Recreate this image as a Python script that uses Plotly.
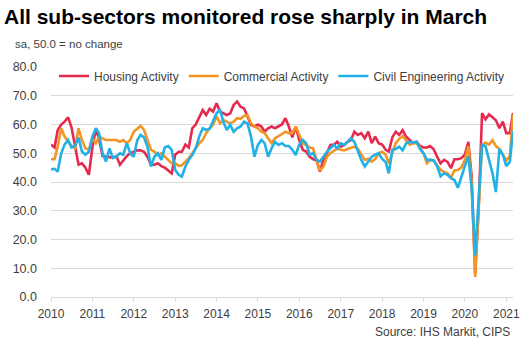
import pandas as pd
import plotly.graph_objects as go

months = pd.date_range("2010-01-01", periods=135, freq="MS")

housing = [
    53, 52, 58, 60, 61, 62.5, 59, 52, 46, 46.5, 45, 42.5,            # 2010
    52, 58.5, 55, 49, 48.8, 48.8, 48.5, 49, 46, 47.5, 49, 50,        # 2011
    50.5, 51, 51, 50.5, 48.8, 46, 46, 46.5, 45.5, 45, 44, 43,        # 2012
    49.5, 50.5, 50.5, 53, 52, 58.7, 60, 62.8, 65, 63.3, 65.5, 64.5,  # 2013
    67.4, 64.5, 64, 63.3, 63.8, 66.8, 68, 66.2, 65.6, 62.8, 59.9, 59.3,  # 2014
    60, 59.3, 57.5, 58.7, 59.3, 58.7, 59.3, 60, 62.2, 59.3, 55.5, 59.3,  # 2015
    54.6, 51.2, 50.6, 48.8, 48, 47.5, 43.6, 47.7, 50, 52.9, 53, 54,  # 2016
    52.3, 52.9, 54, 54.6, 57.5, 56.4, 57, 55.2, 57.5, 53.5, 55.8, 53.5,  # 2017
    53, 51.2, 50.6, 55.5, 57.5, 56.4, 58, 55.8, 54.6, 53.5, 54, 52.5,  # 2018
    52, 52, 52.5, 51.4, 48.8, 46.5, 47.7, 47, 44.8, 47.9, 47.9, 48.3,  # 2019
    49.5, 54, 42, 8, 30, 64, 61.8, 63.5, 62.5, 61.5, 58.7, 61,       # 2020
    57, 57, 64,                                                      # 2021
]

commercial = [
    47.9, 47.9, 52.3, 58.7, 55.8, 54, 52.5, 51.7, 58.7, 54.6, 51.7, 51.2,  # 2010
    55.2, 53.5, 55.8, 55.2, 54.6, 54.6, 54.6, 54.6, 54, 54.6, 53.5, 54.6,  # 2011
    57.5, 58.5, 59.5, 58.1, 54.6, 51.2, 50.6, 49.4, 50, 48.8, 47.5, 46.5,  # 2012
    46.5, 45.6, 45.8, 47.1, 48.3, 50, 51.7, 53.5, 54.6, 57, 58.7, 59.9,    # 2013
    62.8, 60.4, 61.6, 61, 60.4, 61, 62.2, 62, 63, 63.3, 60.4, 59.3,        # 2014
    58.7, 57.5, 57, 55.2, 53.5, 55.2, 55.8, 56.7, 57.5, 57, 57, 59.3,      # 2015
    56.4, 53.5, 52.9, 52, 51.7, 47.7, 44, 45.4, 48.8, 50, 51, 51.7,        # 2016
    51.2, 51, 51.5, 52, 52.3, 51.5, 49.4, 47.7, 48, 47.1, 48, 50,          # 2017
    50.5, 49.5, 46.5, 50.5, 53.5, 55, 56, 54.5, 53, 53.5, 53.5, 52,        # 2018
    50, 46.5, 47.7, 47.5, 46, 44.2, 43.5, 43, 41.5, 44, 44.2, 45,          # 2019
    47.7, 52.5, 40, 7, 30, 52.9, 53.7, 53, 54.6, 52.5, 51.5, 49.5,         # 2020
    47.5, 49, 63.4,                                                        # 2021
]

civil = [
    44.4, 44.6, 43.6, 50, 53, 54.6, 52, 52.5, 55.5, 50.6, 49.5, 50.5,      # 2010
    55.8, 58.7, 57, 50, 47.1, 51.7, 48.3, 48.8, 50, 49.5, 53.5, 50,        # 2011
    48.8, 54.5, 56.4, 55.5, 52.3, 45.4, 48.8, 50, 47.7, 52, 52.5, 51.2,    # 2012
    44.2, 42.5, 41.9, 45.4, 47.7, 49.4, 51.7, 55.8, 58.7, 58.1, 58.5, 61,  # 2013
    63.9, 65.2, 61, 58.1, 59.9, 57.5, 58.7, 59.3, 61, 60.4, 55.8, 48.8,    # 2014
    52.9, 54.6, 53.5, 48.8, 51.7, 54, 52.9, 53.5, 52.5, 52.5, 51.2, 49.4,  # 2015
    53, 54.6, 53.5, 49.5, 50, 47.7, 47.1, 48.8, 50.5, 51.7, 52.9, 51.7,    # 2016
    53.5, 52.9, 54, 55.2, 54, 50.6, 47.7, 45.4, 47, 48.8, 49.5, 50,        # 2017
    48, 47, 43, 51.2, 51.5, 52.3, 51, 53.5, 54, 53.7, 54, 51.5,            # 2018
    50, 47.7, 47.7, 47.5, 45.5, 42, 43, 42.5, 41.3, 40.7, 38, 42,          # 2019
    45.5, 49, 38, 14.5, 33, 53, 52.5, 47.5, 43, 36.5, 51.5, 49.5,          # 2020
    45.5, 47, 57.8,                                                        # 2021
]

series = [
    ("Housing Activity", housing, "#e5294f"),
    ("Commercial Activity", commercial, "#f49423"),
    ("Civil Engineering Activity", civil, "#21b1e6"),
]

fig = go.Figure()
for name, vals, color in series:
    fig.add_trace(go.Scatter(x=months, y=vals, name=name, mode="lines",
                             line=dict(color=color, width=2.6)))

L, R, T, B = 51, 18, 67, 56
W, H = 531, 353
pw, ph = W - L - R, H - T - B

def px(x):
    return (x - L) / pw

def py(y):
    return (H - B - y) / ph

fig.update_layout(
    width=W, height=H,
    margin=dict(l=L, r=R, t=T, b=B),
    paper_bgcolor="white", plot_bgcolor="white",
    font=dict(family="Liberation Sans, Arial, sans-serif", size=12, color="#404040"),
    title=dict(text="<b>All sub-sectors monitored rose sharply in March</b>",
               font=dict(size=21, color="#000000"),
               x=4 / W, xanchor="left", xref="container",
               y=1 - 17 / H, yanchor="middle", yref="container"),
    legend=dict(orientation="h", x=px(54), xanchor="left", y=py(76), yanchor="middle",
                font=dict(size=12, color="#404040"), bgcolor="rgba(255,255,255,0)",
                itemwidth=30, tracegroupgap=0),
    xaxis=dict(range=[months[0], months[-1]], tick0="2010-01-01", dtick="M12",
               tickformat="%Y", showgrid=False, showline=True, linecolor="#d9d9d9",
               ticks="outside", ticklen=4, tickcolor="#d9d9d9", zeroline=False,
               ticklabelstandoff=2, tickfont=dict(size=12, color="#404040")),
    yaxis=dict(range=[0, 80], dtick=10, tickformat=".1f", showgrid=True,
               gridcolor="#d9d9d9", gridwidth=1, zeroline=False, showline=False,
               ticks="", ticklabelstandoff=13, tickfont=dict(size=12.5, color="#404040")),
    annotations=[
        dict(text="sa, 50.0 = no change", xref="paper", yref="paper",
             x=px(13), y=py(44), xanchor="left", yanchor="middle", showarrow=False,
             font=dict(size=11.5, color="#404040")),
        dict(text="Source: IHS Markit, CIPS", xref="paper", yref="paper",
             x=px(512), y=py(332), xanchor="right", yanchor="middle", showarrow=False,
             font=dict(size=12, color="#404040")),
    ],
)

fig.write_html("out.html")
